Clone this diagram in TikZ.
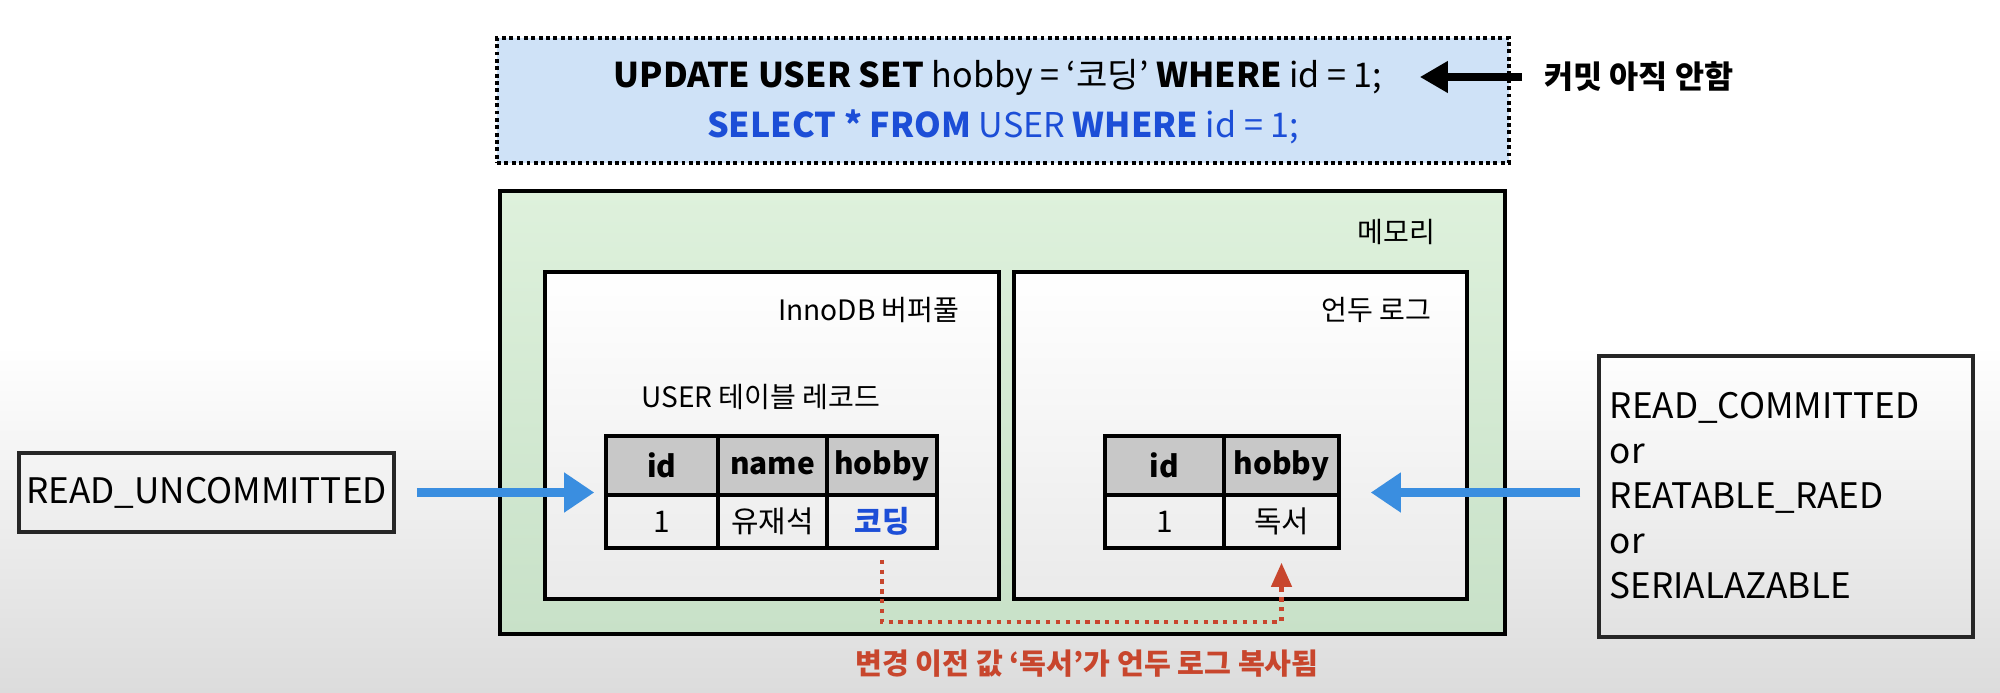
\documentclass[tikz,border=0pt]{standalone}
\usepackage{fontspec}
\setmainfont{Noto Sans CJK KR}
\usetikzlibrary{arrows.meta}
\definecolor{bggray}{RGB}{220,220,220}
\definecolor{sqlfill}{RGB}{207,226,247}
\definecolor{sqlblue}{RGB}{28,78,215}
\definecolor{memtop}{RGB}{222,241,220}
\definecolor{membot}{RGB}{200,225,200}
\definecolor{boxgray}{RGB}{234,234,234}
\definecolor{headgray}{RGB}{200,200,200}
\definecolor{arrowblue}{RGB}{58,142,224}
\definecolor{copyred}{RGB}{200,70,45}

\begin{document}
\begin{tikzpicture}[
  box/.style={draw=black,line width=1.2pt,inner sep=0pt},
  isobox/.style={draw=black!85,line width=1pt,inner sep=0pt},
  txt/.style={font=\fontsize{8}{10}\selectfont},
  sqltxt/.style={font=\fontsize{9.7}{12}\selectfont},
  isotxt/.style={font=\fontsize{10}{12.8}\selectfont},
  tcell/.style={draw=black,line width=1pt,minimum height=0.53cm,inner sep=0pt,font=\fontsize{8.5}{10}\selectfont},
  hcell/.style={tcell,fill=headgray,minimum height=0.59cm,font=\fontsize{8.5}{10}\selectfont\bfseries},
  fat/.style={line width=2.4pt,color=arrowblue,-{Triangle[width=0.38cm,length=0.3cm]}},
  copyline/.style={line width=1.2pt,color=copyred,dash pattern=on 1.2pt off 1.6pt,-{Triangle[width=0.2cm,length=0.24cm]}}
]
\useasboundingbox (0,0) rectangle (20,6.92);
\shade[top color=white,bottom color=bggray,middle color=white] (0,0) rectangle (20,6.92);

\node[draw=black,densely dotted,line width=1.1pt,fill=sqlfill,minimum width=10.12cm,minimum height=1.25cm] (sqlbox) at (10.03,5.915) {};
\node[sqltxt] (upd) at (9.98,6.15) {\textbf{UPDATE USER SET} hobby = ‘코딩’ \textbf{WHERE} id = 1;};
\node[sqltxt,text=sqlblue] (sel) at (10.03,5.65) {\textbf{SELECT * FROM} USER \textbf{WHERE} id = 1;};
\node[font=\fontsize{9}{11}\selectfont\bfseries,anchor=west] (commit) at (15.32,6.15) {커밋 아직 안함};
\draw[line width=2pt,-{Triangle[width=0.3cm,length=0.28cm]},shorten <=0.1cm,shorten >=0.25cm] (commit.west) -- (upd.east);

\node[box,top color=memtop,bottom color=membot,minimum width=10.05cm,minimum height=4.43cm] (mem) at (10.025,2.795) {};
\node[txt,anchor=east] (memlbl) at (14.48,4.60) {메모리};
\node[box,top color=white,bottom color=boxgray,minimum width=4.54cm,minimum height=3.27cm] (pool) at (7.72,2.565) {};
\node[txt,anchor=east] (poollbl) at (9.72,3.82) {InnoDB 버퍼풀};
\node[box,top color=white,bottom color=boxgray,minimum width=4.53cm,minimum height=3.27cm] (undo) at (12.405,2.565) {};
\node[txt,anchor=east] (undolbl) at (14.44,3.82) {언두 로그};
\node[txt,anchor=west] (reclbl) at (6.29,2.95) {USER 테이블 레코드};

\node[hcell,minimum width=1.12cm] (h11) at (6.62,2.265) {id};
\node[hcell,minimum width=1.09cm] (h12) at (7.725,2.265) {name};
\node[hcell,minimum width=1.10cm] (h13) at (8.82,2.265) {hobby};
\node[tcell,minimum width=1.12cm] (c11) at (6.62,1.705) {1};
\node[tcell,minimum width=1.09cm] (c12) at (7.725,1.705) {유재석};
\node[tcell,minimum width=1.10cm,text=sqlblue,font=\fontsize{8.5}{10}\selectfont\bfseries] (c13) at (8.82,1.705) {코딩};
\node[hcell,minimum width=1.19cm] (h21) at (11.645,2.265) {id};
\node[hcell,minimum width=1.15cm] (h22) at (12.815,2.265) {hobby};
\node[tcell,minimum width=1.19cm] (c21) at (11.645,1.705) {1};
\node[tcell,minimum width=1.15cm] (c22) at (12.815,1.705) {독서};

\node[isobox,isotxt,minimum width=3.75cm,minimum height=0.79cm] (ru) at (2.065,1.995) {READ\_UNCOMMITTED};
\node[isobox,minimum width=3.74cm,minimum height=2.81cm] (rc) at (17.86,1.955) {};
\node[isotxt,anchor=west,align=left,inner sep=0pt] (rclist) at (16.09,1.96) {READ\_COMMITTED\\or\\REATABLE\_RAED\\or\\SERIALAZABLE};
\draw[fat,shorten <=0.21cm,shorten >=0.1cm] (ru.east) -- (ru.east -| h11.west);
\draw[fat,shorten <=0.17cm,shorten >=0.3cm] (rc.west |- ru.east) -- (h22.east |- ru.east);

\coordinate (low) at (0,0.70);
\draw[copyline,shorten <=0.1cm,shorten >=0.13cm] (c13.south) -- (c13.south |- low) -| (c22.south);
\node[font=\fontsize{8.3}{10}\selectfont\bfseries,text=copyred] (note) at (10.87,0.28) {변경 이전 값 ‘독서’가 언두 로그 복사됨};
\end{tikzpicture}
\end{document}
